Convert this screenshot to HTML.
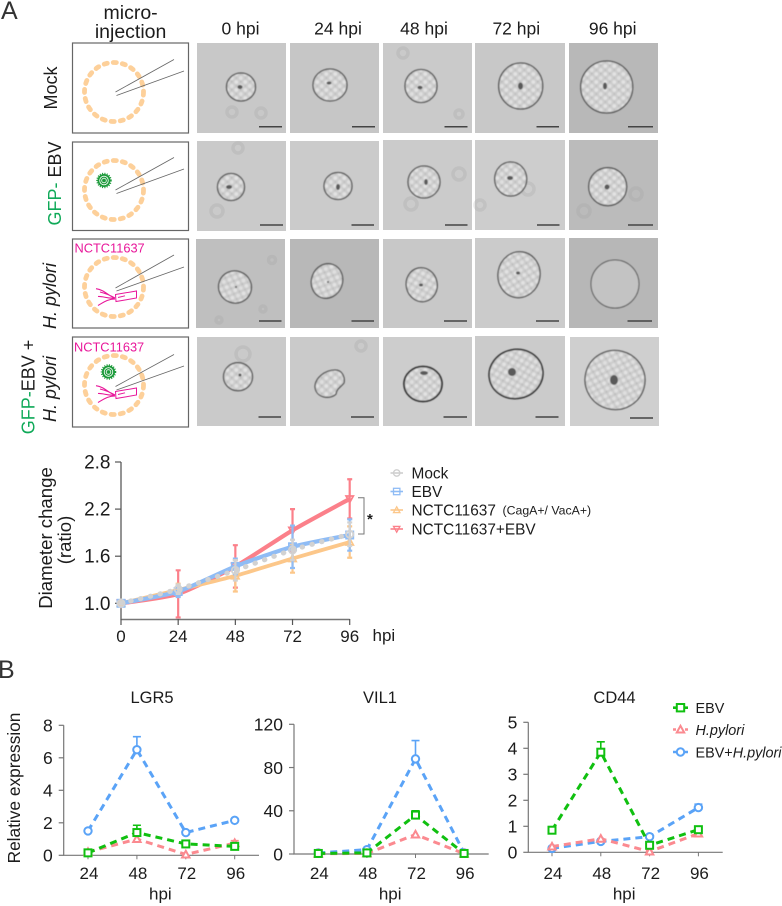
<!DOCTYPE html>
<html lang="en">
<head>
<meta charset="utf-8">
<title>Organoid microinjection figure</title>
<style>
html,body{margin:0;padding:0;background:#fff;width:782px;height:906px;overflow:hidden}
svg{display:block;font-family:"Liberation Sans",Arial,sans-serif;fill:#1c1c1c}
.box{fill:#fff;stroke:#666;stroke-width:1.2}
.ring{fill:none;stroke:#fdd09a;stroke-width:4.800;stroke-dasharray:3.200 6;stroke-linecap:round}
.needle{stroke:#666;stroke-width:.8;fill:none}
.bg-ring{fill:none;stroke:#999;stroke-opacity:.22;stroke-width:3.500}
.org{stroke:#555;stroke-width:1.300;fill:url(#cells)}
.lum{fill:#5a5a5a}
.bar{stroke:#444;stroke-width:1.500}
.pink{fill:#e8179a;font-size:12.800px}
.col{font-size:17.500px;text-anchor:middle}
.row{font-size:18px;text-anchor:middle}
</style>
</head>
<body>
<svg id="figure" width="782" height="906" viewBox="0 0 782 906" xmlns="http://www.w3.org/2000/svg">
<defs>
<pattern id="cells" patternUnits="userSpaceOnUse" width="9" height="8">
<rect width="9" height="8" fill="#cdcdcd"/>
<circle cx="2.300" cy="2" r="1.900" fill="#e2e2e2"/>
<circle cx="6.800" cy="6" r="1.900" fill="#dfdfdf"/>
<circle cx="6.800" cy="1.800" r=".9" fill="#b9b9b9"/>
<circle cx="2.300" cy="6" r=".9" fill="#bcbcbc"/>
</pattern>
<filter id="soft" x="-10%" y="-10%" width="120%" height="120%"><feGaussianBlur stdDeviation=".65"/></filter>
<g id="bact" fill="none" stroke="#e8179a" stroke-width="1">
<path d="M115.500 294.500L136.500 291L136.500 298L116 301.500Z"/>
<path d="M118 297.500L125 295.800"/>
<path d="M115 298C108 296 105 290 96 288.700M115 298C108 294 104 293 100 292M115 298C108 299 103 296 98 296.500M115 299C108 299 104 302 98 305.500" stroke-width="1.100"/>
</g>
<g id="virus">
<circle r="6.500" fill="#1c9a3a" stroke="#1c9a3a" stroke-width="2.500" stroke-dasharray="1 1.200"/>
<circle r="5" fill="#1c9a3a"/>
<circle r="4.300" fill="none" stroke="#fff" stroke-width=".8"/>
<circle r="2.300" fill="none" stroke="#fff" stroke-width=".8"/>
</g>
</defs>

<text x="1" y="19" font-size="25" fill="#333">A</text>
<text x="-2" y="678" font-size="25" fill="#333">B</text>

<g>
<text class="col" x="130.600" y="19" style="font-size:19.500px">micro-</text>
<text class="col" x="130.600" y="38" style="font-size:19.500px">injection</text>
<text class="col" x="240.500" y="34.500">0 hpi</text>
<text class="col" x="338" y="34.500">24 hpi</text>
<text class="col" x="424" y="34.500">48 hpi</text>
<text class="col" x="516.300" y="34.500">72 hpi</text>
<text class="col" x="612.700" y="34.500">96 hpi</text>
</g>

<g>
<text class="row" transform="translate(57 88) rotate(-90)">Mock</text>
<text class="row" transform="translate(61 183.500) rotate(-90)"><tspan fill="#0fa958">GFP-</tspan> EBV</text>
<text class="row" font-style="italic" transform="translate(56 296) rotate(-90)">H. pylori</text>
<text class="row" transform="translate(34.500 387) rotate(-90)"><tspan fill="#0fa958">GFP-</tspan>EBV +</text>
<text class="row" font-style="italic" transform="translate(56 389) rotate(-90)">H. pylori</text>
</g>

<g>
<rect class="box" x="72.500" y="43" width="116" height="90"/>
<ellipse class="ring" cx="114" cy="92" rx="29.500" ry="29.500"/>
<path class="needle" d="M115.500 92L174 59.500M116.500 95.500L184 71"/>
</g>
<g>
<rect class="box" x="72.500" y="142" width="116" height="88.500"/>
<ellipse class="ring" cx="114" cy="190" rx="29.500" ry="29.500"/>
<use href="#virus" x="104" y="180.500"/>
<path class="needle" d="M115.500 190L174 157.500M116.500 193.500L184 169"/>
</g>
<g>
<rect class="box" x="72.500" y="239" width="116" height="89"/>
<ellipse class="ring" cx="114" cy="287" rx="29.500" ry="29.500"/>
<use href="#bact"/>
<path class="needle" d="M115.500 288L174 255M116.500 291L184 267"/>
<text class="pink" x="74.500" y="252.700">NCTC11637</text>
</g>
<g>
<rect class="box" x="72.500" y="337" width="116" height="90"/>
<ellipse class="ring" cx="114" cy="385" rx="29.500" ry="29.500"/>
<use href="#virus" x="108.500" y="372"/>
<use href="#bact" y="97"/>
<path class="needle" d="M115.500 386.500L174 354.500M116.500 390L184 366"/>
<text class="pink" x="74" y="351.500">NCTC11637</text>
</g>

<g>
<!-- row 1 -->
<g><rect x="197" y="43" width="89" height="90" fill="#c8c8c8"/><circle class="bg-ring" cx="261" cy="113" r="5"/><circle class="bg-ring" cx="232" cy="112" r="5"/><g filter="url(#soft)"><ellipse class="org" cx="241" cy="87" rx="14.500" ry="14"/><ellipse class="lum" cx="240" cy="87" rx="2.500" ry="2"/></g><line class="bar" x1="259" x2="282" y1="126.700" y2="126.700"/></g>
<g><rect x="290" y="43" width="89" height="90" fill="#c6c6c6"/><g filter="url(#soft)"><ellipse class="org" cx="330" cy="85" rx="17" ry="16"/><ellipse class="lum" cx="329" cy="83" rx="2.500" ry="1.500"/></g><line class="bar" x1="352" x2="375" y1="126.700" y2="126.700"/></g>
<g><rect x="383" y="43" width="89" height="90" fill="#cacaca"/><circle class="bg-ring" cx="403" cy="53" r="5"/><circle class="bg-ring" cx="459" cy="114" r="4"/><g filter="url(#soft)"><ellipse class="org" cx="421" cy="86" rx="16" ry="16.500"/><ellipse class="lum" cx="420" cy="87.500" rx="2.500" ry="1.800"/></g><line class="bar" x1="444.500" x2="467.500" y1="126.700" y2="126.700"/></g>
<g><rect x="475" y="43" width="90" height="90" fill="#c8c8c8"/><g filter="url(#soft)"><ellipse class="org" cx="520.700" cy="86" rx="22" ry="23"/><ellipse class="lum" cx="520.500" cy="86" rx="2.500" ry="3.500"/></g><line class="bar" x1="536.500" x2="559" y1="126.700" y2="126.700"/></g>
<g><rect x="569" y="43" width="89" height="90" fill="#b8b8b8"/><g filter="url(#soft)"><ellipse class="org" cx="606.700" cy="87" rx="26" ry="26"/><ellipse class="lum" cx="605" cy="86" rx="2" ry="3.500"/></g><line class="bar" x1="628" x2="653" y1="126.700" y2="126.700"/></g>
<!-- row 2 -->
<g><rect x="197" y="141" width="89" height="90" fill="#cacaca"/><circle class="bg-ring" cx="217" cy="211" r="6"/><circle class="bg-ring" cx="238" cy="148" r="5"/><g filter="url(#soft)"><ellipse class="org" cx="231" cy="187" rx="13.500" ry="13.500"/><ellipse class="lum" cx="229" cy="187" rx="3" ry="2"/></g><line class="bar" x1="260" x2="283" y1="225" y2="225"/></g>
<g><rect x="290" y="141" width="89" height="89" fill="#cbcbcb"/><g filter="url(#soft)"><ellipse class="org" cx="338" cy="186" rx="14" ry="13.500"/><ellipse class="lum" cx="338" cy="187" rx="2" ry="3"/></g><line class="bar" x1="351.500" x2="374" y1="225" y2="225"/></g>
<g><rect x="383" y="140" width="89" height="90" fill="#cbcbcb"/><circle class="bg-ring" cx="459" cy="174" r="6"/><circle class="bg-ring" cx="411" cy="204" r="6"/><g filter="url(#soft)"><ellipse class="org" cx="424" cy="182" rx="16" ry="16"/><ellipse class="lum" cx="426" cy="182" rx="1.800" ry="3"/></g><line class="bar" x1="445" x2="467.500" y1="225" y2="225"/></g>
<g><rect x="475" y="140" width="90" height="90" fill="#cdcdcd"/><circle class="bg-ring" cx="528" cy="189" r="6"/><circle class="bg-ring" cx="480" cy="205" r="5"/><g filter="url(#soft)"><ellipse class="org" cx="510.700" cy="179" rx="16" ry="17"/><ellipse class="lum" cx="510" cy="178" rx="3" ry="2"/></g><line class="bar" x1="537" x2="559.500" y1="225" y2="225"/></g>
<g><rect x="569" y="140" width="89" height="90" fill="#bbbbbb"/><circle class="bg-ring" cx="636" cy="194" r="6"/><circle class="bg-ring" cx="584" cy="211" r="6"/><g filter="url(#soft)"><ellipse class="org" cx="607.700" cy="186.700" rx="19" ry="19"/><ellipse class="lum" cx="607" cy="187" rx="2.500" ry="2.500"/></g><line class="bar" x1="628" x2="653" y1="225" y2="225"/></g>
<!-- row 3 -->
<g><rect x="196" y="239" width="89" height="89" fill="#bfbfbf"/><circle class="bg-ring" cx="272" cy="260" r="3.500"/><circle class="bg-ring" cx="263" cy="309" r="3"/><circle class="bg-ring" cx="219" cy="320" r="3"/><g filter="url(#soft)"><ellipse class="org" cx="235" cy="287" rx="16.500" ry="16" transform="rotate(20 235 287)"/><ellipse class="lum" cx="236" cy="287" rx="1" ry="1"/></g><line class="bar" x1="259" x2="281.500" y1="321" y2="321"/></g>
<g><rect x="290" y="239" width="89" height="89" fill="#b8b8b8"/><g filter="url(#soft)"><ellipse class="org" cx="327" cy="281" rx="15.500" ry="17.500" transform="rotate(20 327 281)"/><ellipse class="lum" cx="328" cy="282" rx="1" ry="1"/></g><line class="bar" x1="351.500" x2="374" y1="321" y2="321"/></g>
<g><rect x="383" y="239" width="89" height="89" fill="#c8c8c8"/><g filter="url(#soft)"><ellipse class="org" cx="421.700" cy="284.700" rx="15.500" ry="17" transform="rotate(-12 421.700 284.700)"/><ellipse class="lum" cx="421" cy="285" rx="2" ry="1.500"/></g><line class="bar" x1="444" x2="467" y1="321" y2="321"/></g>
<g><rect x="475" y="238" width="90" height="90" fill="#cbcbcb"/><g filter="url(#soft)"><ellipse class="org" cx="519" cy="274.700" rx="21" ry="23" transform="rotate(10 519 274.700)"/><ellipse class="lum" cx="518" cy="273" rx="2" ry="1.500"/></g><line class="bar" x1="536" x2="559" y1="321" y2="321"/></g>
<g><rect x="569" y="238" width="89" height="90" fill="#b7b7b7"/><ellipse cx="615" cy="284" rx="24" ry="24" fill="#c3c3c3" stroke="#555" stroke-width="1" filter="url(#soft)"/><line class="bar" x1="627.500" x2="652" y1="321" y2="321"/></g>
<!-- row 4 -->
<g><rect x="197" y="337" width="89" height="89" fill="#cacaca"/><circle class="bg-ring" cx="243" cy="354" r="7"/><g filter="url(#soft)"><ellipse class="org" cx="238" cy="376.700" rx="14.500" ry="14"/><ellipse class="lum" cx="240" cy="375" rx="1.500" ry="1.500"/></g><line class="bar" x1="258.500" x2="281" y1="417" y2="417"/></g>
<g><rect x="290" y="337" width="89" height="89" fill="#cacaca"/><circle class="bg-ring" cx="361" cy="346" r="5"/><g filter="url(#soft)"><path class="org" d="M315 387C315 378 325 370 335 370C343 370 345 378 344 383C340 388 337 388 336 394C330 400 316 398 315 387Z"/></g><line class="bar" x1="351" x2="374" y1="417" y2="417"/></g>
<g><rect x="383" y="337" width="89" height="89" fill="#cdcdcd"/><g filter="url(#soft)"><ellipse class="org" cx="423" cy="384" rx="19" ry="17.500" style="stroke-width:1.800;stroke:#333"/><ellipse class="lum" cx="424" cy="373" rx="4" ry="2"/></g><line class="bar" x1="443.500" x2="467" y1="417" y2="417"/></g>
<g><rect x="475" y="336" width="90" height="90" fill="#cbcbcb"/><g filter="url(#soft)"><ellipse class="org" cx="516" cy="374" rx="27" ry="24.500" transform="rotate(-12 516 374)" style="stroke-width:1.600;stroke:#333"/><ellipse class="lum" cx="512" cy="372" rx="4" ry="4" fill="#777"/></g><line class="bar" x1="535.500" x2="558.500" y1="417" y2="417"/></g>
<g><rect x="570" y="337" width="89" height="89" fill="#cfcfcf"/><g filter="url(#soft)"><ellipse class="org" cx="615" cy="380" rx="30" ry="29.500" transform="rotate(15 615 380)"/><ellipse class="lum" cx="614" cy="380" rx="4" ry="5" fill="#999"/></g><line class="bar" x1="630" x2="653" y1="418" y2="418"/></g>
</g>

<g id="growth-chart"></g>
<g id="lgr5-chart"></g>
<g id="vil1-chart"></g>
<g id="cd44-chart"></g>
</svg>

<script>
// Diameter-change chart data
const growthHours = [0, 24, 48, 72, 96];
const growthTicks = ['1.0', '1.6', '2.2', '2.8'];
const mockMeans = [1, 1.18, 1.42, 1.68, 1.88];
const mockErrors = [0, 0.06, 0.13, 0.13, 0.15];
const ebvMeans = [1, 1.15, 1.47, 1.72, 1.87];
const ebvErrors = [0, 0.07, 0.1, 0.27, 0.2];
const nctcMeans = [1, 1.17, 1.35, 1.57, 1.78];
const nctcErrors = [0, 0.08, 0.2, 0.18, 0.2];
const comboMeans = [1, 1.12, 1.47, 1.93, 2.33];
const comboErrors = [0, 0.3, 0.27, 0.27, 0.25];

// Relative-expression chart data
const expressionHours = ['24', '48', '72', '96'];
const lgr5Ticks = [0, 2, 4, 6, 8];
const lgr5Ebv = [0.15, 1.4, 0.7, 0.55];
const lgr5EbvErr = [0, 0.45, 0, 0];
const lgr5Pylori = [0.2, 1.0, 0.05, 0.75];
const lgr5PyloriErr = [0, 0, 0, 0.15];
const lgr5Combo = [1.5, 6.5, 1.4, 2.15];
const lgr5ComboErr = [0, 0.8, 0, 0];
const vil1Ticks = [0, 40, 80, 120];
const vil1Ebv = [0.5, 1, 36, 0.5];
const vil1EbvErr = [0, 0, 4, 0];
const vil1Pylori = [0.3, 0.5, 18, 0.3];
const vil1PyloriErr = [0, 0, 0, 0];
const vil1Combo = [1, 4, 88, 1];
const vil1ComboErr = [0, 0, 17, 0];
const cd44Ticks = [0, 1, 2, 3, 4, 5];
const cd44Ebv = [0.85, 3.85, 0.27, 0.87];
const cd44EbvErr = [0, 0.4, 0, 0];
const cd44Pylori = [0.22, 0.52, 0.03, 0.72];
const cd44PyloriErr = [0, 0, 0, 0];
const cd44Combo = [0.15, 0.42, 0.6, 1.72];
const cd44ComboErr = [0, 0, 0, 0.13];

const NS = 'http://www.w3.org/2000/svg';
function mk(parent, tag, attrs, text) {
  const n = document.createElementNS(NS, tag);
  for (const k in attrs) n.setAttribute(k, attrs[k]);
  if (text !== undefined) n.textContent = text;
  parent.appendChild(n);
  return n;
}
function markerShape(parent, shape, x, y, s, color, sw, fill) {
  const st = {fill: fill, stroke: color, 'stroke-width': sw};
  if (shape === 'circle') return mk(parent, 'circle', Object.assign({cx: x, cy: y, r: s}, st));
  if (shape === 'square') return mk(parent, 'rect', Object.assign({x: x - s, y: y - s, width: 2 * s, height: 2 * s}, st));
  if (shape === 'triangle') return mk(parent, 'path', Object.assign({d: `M${x} ${y - s}L${x + s} ${y + s * 0.8}L${x - s} ${y + s * 0.8}Z`}, st));
  return mk(parent, 'path', Object.assign({d: `M${x} ${y + s}L${x + s} ${y - s * 0.8}L${x - s} ${y - s * 0.8}Z`}, st));
}
function smoothPath(pts) {
  let d = `M${pts[0][0]} ${pts[0][1]}`;
  for (let i = 0; i < pts.length - 1; i++) {
    const p0 = pts[Math.max(i - 1, 0)], p1 = pts[i], p2 = pts[i + 1], p3 = pts[Math.min(i + 2, pts.length - 1)];
    const c1x = p1[0] + (p2[0] - p0[0]) / 9, c1y = p1[1] + (p2[1] - p0[1]) / 9;
    const c2x = p2[0] - (p3[0] - p1[0]) / 9, c2y = p2[1] - (p3[1] - p1[1]) / 9;
    d += `C${c1x} ${c1y} ${c2x} ${c2y} ${p2[0]} ${p2[1]}`;
  }
  return d;
}

/* ---------- growth chart ---------- */
const gx = h => 121 + h / 96 * 228.7;
const gy = v => 603.3 - (v - 1) * 141.3 / 1.8;
const growth = document.getElementById('growth-chart');

const gAxisY = mk(growth, 'line', {x1: 121, x2: 121, y1: gy(2.8), y2: 619.5, stroke: '#666', 'stroke-width': 1.4});


const gAxisX = mk(growth, 'line', {x1: 121, x2: gx(96), y1: 619.5, y2: 619.5, stroke: '#777', 'stroke-width': 1.6});



growthTicks.forEach(t => {
  const y = gy(parseFloat(t));
  const tick = mk(growth, 'line', {x1: 115, x2: 121, y1: y, y2: y, stroke: '#555', 'stroke-width': 1.2});
  
  
  const lab = mk(growth, 'text', {x: 110.5, y: y + 6.5, 'text-anchor': 'end', 'font-size': 19}, t);
  
  
});
growthHours.forEach(h => {
  const x = gx(h);
  const tick = mk(growth, 'line', {x1: x, x2: x, y1: 619, y2: 625, stroke: '#555', 'stroke-width': 1.2});
  
  
  const lab = mk(growth, 'text', {x: x, y: 642, 'text-anchor': 'middle', 'font-size': 17}, String(h));
  
  
});
const gHpi = mk(growth, 'text', {x: 372.5, y: 641, 'font-size': 17}, 'hpi');


const gTitle1 = mk(growth, 'text', {transform: 'translate(52 538) rotate(-90)', 'text-anchor': 'middle', 'font-size': 18.6}, 'Diameter change');


const gTitle2 = mk(growth, 'text', {transform: 'translate(71 540) rotate(-90)', 'text-anchor': 'middle', 'font-size': 18.6}, '(ratio)');



function growthSeries(name, means, errors, color, shape, dotted, width) {
  const g = mk(growth, 'g', {});
  
  
  means.forEach((m, i) => {
    if (!errors[i]) return;
    const x = gx(growthHours[i]), top = gy(m + errors[i]), bot = gy(m - errors[i]);
    const err = mk(g, 'path', {d: `M${x} ${top}V${bot}M${x - 2.5} ${top}H${x + 2.5}M${x - 2.5} ${bot}H${x + 2.5}`, stroke: color, 'stroke-width': 2.2, fill: 'none'});
    
    
  });
  const line = mk(g, 'path', {d: smoothPath(means.map((m, i) => [gx(growthHours[i]), gy(m)])), fill: 'none', stroke: color, 'stroke-width': width, 'stroke-linecap': dotted ? 'round' : 'butt', 'stroke-dasharray': dotted ? '0.5 9.5' : 'none'});
  
  
  means.forEach((m, i) => {
    const pt = markerShape(g, shape, gx(growthHours[i]), gy(m), 3.6, color, 1.8, 'none');
    
    
  });
}
growthSeries('nctc11637-ebv', comboMeans, comboErrors, '#fb808a', 'invtriangle', false, 4.2);
growthSeries('nctc11637', nctcMeans, nctcErrors, '#fcc78a', 'triangle', false, 3.8);
growthSeries('ebv', ebvMeans, ebvErrors, '#8fbcf5', 'square', false, 4.2);
growthSeries('mock', mockMeans, mockErrors, '#d2d2d2', 'circle', true, 5);

const bracket = mk(growth, 'path', {d: 'M358 497.700H364V534H358', fill: 'none', stroke: '#777', 'stroke-width': 1});


const star = mk(growth, 'text', {x: 367, y: 524, 'font-size': 15, 'font-weight': 'bold'}, '*');



const gLegend = mk(growth, 'g', {});


function growthLegendEntry(label, y, color, shape) {
  const e = mk(gLegend, 'g', {});
  
  
  mk(e, 'line', {x1: 390.5, x2: 403, y1: y, y2: y, stroke: color, 'stroke-width': 1.6});
  markerShape(e, shape, 396.7, y, 3.2, color, 1.3, 'none');
  mk(e, 'text', {x: 411.5, y: y + 5.5, 'font-size': 15.4}, label);
}
growthLegendEntry('Mock', 473, '#cfcfcf', 'circle');
growthLegendEntry('EBV', 491.5, '#8fbcf5', 'square');
growthLegendEntry('NCTC11637', 510, '#fcc78a', 'triangle');
growthLegendEntry('NCTC11637+EBV', 529, '#fb808a', 'invtriangle');
const cagLabel = mk(gLegend, 'text', {x: 502.5, y: 514.5, 'font-size': 12.3}, '(CagA+/ VacA+)');



/* ---------- expression charts ---------- */
const EBV_C = '#10c010', PY_C = '#fb8a90', COMBO_C = '#5aa3f7';
function expressionChart(id, title, titleX, axisX, firstX, stepX, endX, y0, yTop, ticks, series) {
  const root = document.getElementById(id);
  const maxV = ticks[ticks.length - 1];
  const sx = i => firstX + i * stepX;
  const sy = v => y0 - v / maxV * (y0 - yTop);

  const t = mk(root, 'text', {x: titleX, y: 703, 'text-anchor': 'middle', 'font-size': 16.5}, title);
  
  
  const axis = mk(root, 'path', {d: `M${axisX} ${yTop}V${y0}H${endX}`, fill: 'none', stroke: '#777', 'stroke-width': 1.2});
  
  
  ticks.forEach(v => {
    const tick = mk(root, 'line', {x1: axisX - 5, x2: axisX, y1: sy(v), y2: sy(v), stroke: '#777', 'stroke-width': 1.2});
    
    
    const lab = mk(root, 'text', {x: axisX - 11, y: sy(v) + 6.3, 'text-anchor': 'end', 'font-size': 17.5}, String(v));
    
    
  });
  expressionHours.forEach((h, i) => {
    const tick = mk(root, 'line', {x1: sx(i), x2: sx(i), y1: y0, y2: y0 + 4, stroke: '#777', 'stroke-width': 1});
    
    
    const lab = mk(root, 'text', {x: sx(i) + 1, y: 879, 'text-anchor': 'middle', 'font-size': 17}, h);
    
    
  });
  const xt = mk(root, 'text', {x: sx(1.5) - 1, y: 899.5, 'text-anchor': 'middle', 'font-size': 17}, 'hpi');
  
  

  series.forEach(s => {
    const g = mk(root, 'g', {});
    
    
    s.values.forEach((v, i) => {
      if (!s.errors[i]) return;
      const top = sy(v + s.errors[i]);
      const e = mk(g, 'path', {d: `M${sx(i)} ${sy(v)}V${top}M${sx(i) - 4} ${top}H${sx(i) + 4}`, fill: 'none', stroke: s.color, 'stroke-width': 1.6});
      
      
    });
    const pts = s.values.map((v, i) => `${sx(i)} ${sy(v)}`).join('L');
    const line = mk(g, 'path', {d: 'M' + pts, fill: 'none', stroke: s.color, 'stroke-width': 3, 'stroke-dasharray': '7 5'});
    
    
    s.values.forEach((v, i) => {
      const m = markerShape(g, s.shape, sx(i), sy(v), s.size, s.color, 2, '#fff');
      
      
    });
  });
}
function seriesSet(ebv, ebvErr, py, pyErr, combo, comboErr) {
  return [
    {name: 'ebv-h-pylori', values: combo, errors: comboErr, color: COMBO_C, shape: 'circle', size: 3.7},
    {name: 'h-pylori', values: py, errors: pyErr, color: PY_C, shape: 'triangle', size: 3.7},
    {name: 'ebv', values: ebv, errors: ebvErr, color: EBV_C, shape: 'square', size: 3.5}
  ];
}
expressionChart('lgr5-chart', 'LGR5', 152, 63.7, 88, 48.9, 259, 855.3, 725.3, lgr5Ticks, seriesSet(lgr5Ebv, lgr5EbvErr, lgr5Pylori, lgr5PyloriErr, lgr5Combo, lgr5ComboErr));
expressionChart('vil1-chart', 'VIL1', 380, 294, 318.3, 48.6, 488.7, 854, 724.3, vil1Ticks, seriesSet(vil1Ebv, vil1EbvErr, vil1Pylori, vil1PyloriErr, vil1Combo, vil1ComboErr));
expressionChart('cd44-chart', 'CD44', 614.5, 528.3, 552, 48.8, 722.7, 852.3, 722.3, cd44Ticks, seriesSet(cd44Ebv, cd44EbvErr, cd44Pylori, cd44PyloriErr, cd44Combo, cd44ComboErr));

const relTitle = mk(document.getElementById('lgr5-chart'), 'text', {transform: 'translate(20 788) rotate(-90)', 'text-anchor': 'middle', 'font-size': 17.3}, 'Relative expression');



const bLegend = mk(document.getElementById('cd44-chart'), 'g', {});


function expressionLegendEntry(y, color, shape) {
  const e = mk(bLegend, 'g', {});
  
  
  mk(e, 'line', {x1: 673, x2: 688, y1: y, y2: y, stroke: color, 'stroke-width': 2.6, 'stroke-dasharray': '3 9'});
  markerShape(e, shape, 680.5, y, 3.7, color, 2, '#fff');
  return e;
}
const legEbv = expressionLegendEntry(707.7, EBV_C, 'square');
mk(legEbv, 'text', {x: 695.5, y: 713, 'font-size': 14.4}, 'EBV');
const legPy = expressionLegendEntry(729.5, PY_C, 'triangle');
mk(legPy, 'text', {x: 695.5, y: 735, 'font-size': 14.4, 'font-style': 'italic'}, 'H.pylori');
const legCombo = expressionLegendEntry(752, COMBO_C, 'circle');
const comboText = mk(legCombo, 'text', {x: 695.5, y: 757.5, 'font-size': 14.4}, 'EBV+');
mk(comboText, 'tspan', {'font-style': 'italic'}, 'H.pylori');
</script>
</body>
</html>
